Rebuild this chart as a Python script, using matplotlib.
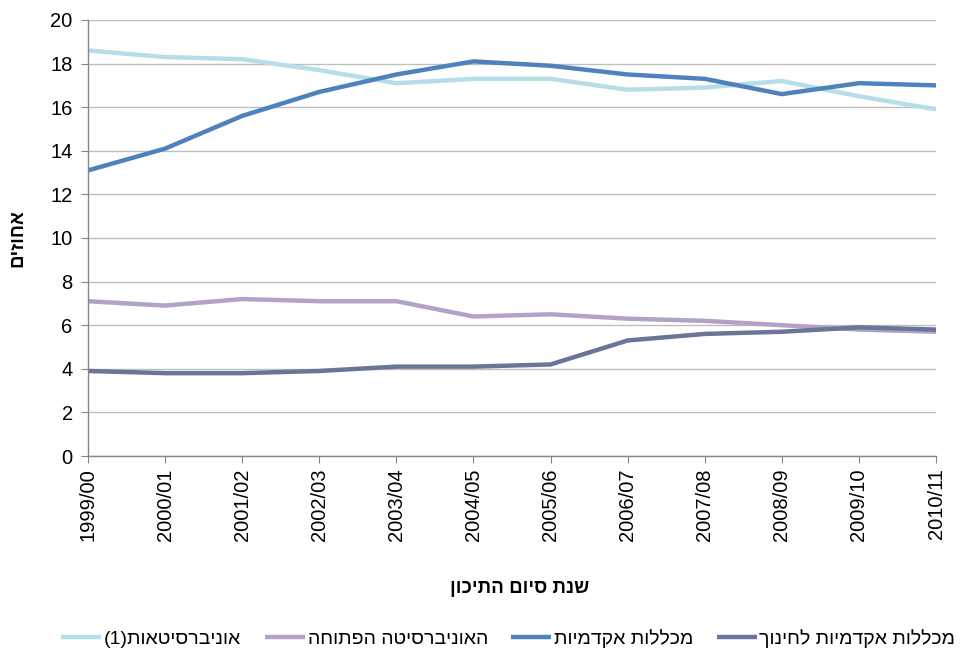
import matplotlib
matplotlib.use("Agg")
import matplotlib.pyplot as plt

plt.rcParams['font.family'] = ['Liberation Sans', 'DejaVu Sans']

years = ["1999/00", "2000/01", "2001/02", "2002/03", "2003/04", "2004/05",
         "2005/06", "2006/07", "2007/08", "2008/09", "2009/10", "2010/11"]
universities = [18.6, 18.3, 18.2, 17.7, 17.1, 17.3, 17.3, 16.8, 16.9, 17.2, 16.5, 15.9]
open_university = [7.1, 6.9, 7.2, 7.1, 7.1, 6.4, 6.5, 6.3, 6.2, 6.0, 5.8, 5.7]
academic_colleges = [13.1, 14.1, 15.6, 16.7, 17.5, 18.1, 17.9, 17.5, 17.3, 16.6, 17.1, 17.0]
education_colleges = [3.9, 3.8, 3.8, 3.9, 4.1, 4.1, 4.2, 5.3, 5.6, 5.7, 5.9, 5.8]

name_univ = "אוניברסיטאות"
name_open = "האוניברסיטה הפתוחה"
name_acad = "מכללות אקדמיות"
name_edu = "מכללות אקדמיות לחינוך"
ylabel = "אחוזים"
xlabel = "שנת סיום התיכון"

def vis(s):
    # visual order for right-to-left text
    return s[::-1]

fig = plt.figure(figsize=(9.63, 6.55), dpi=100)
ax = fig.add_axes([0.0914, 0.3038, 0.8806, 0.6657])

x = list(range(len(years)))
lw = 3.2
ax.plot(x, universities, color="#B7DEE8", lw=lw, label="(1)" + vis(name_univ), solid_capstyle='butt')
ax.plot(x, open_university, color="#B3A2C7", lw=lw, label=vis(name_open), solid_capstyle='butt')
ax.plot(x, academic_colleges, color="#4F81BD", lw=lw, label=vis(name_acad), solid_capstyle='butt')
ax.plot(x, education_colleges, color="#6B7499", lw=lw, label=vis(name_edu), solid_capstyle='butt')

ax.set_xlim(0, len(years) - 1)
ax.set_ylim(0, 20)
ax.set_yticks(range(0, 21, 2))
ax.set_xticks(x)
ax.set_xticklabels(years, rotation=90, fontsize=14.5)
ax.tick_params(axis='y', labelsize=14.5, length=5, color="#868686", pad=6)
ax.tick_params(axis='x', length=5, color="#868686", pad=4)
ax.grid(axis='y', color="#BFBFBF", lw=1)
ax.set_axisbelow(True)
for s in ['top', 'right']:
    ax.spines[s].set_visible(False)
for s in ['left', 'bottom']:
    ax.spines[s].set_color("#868686")
    ax.spines[s].set_linewidth(1)

fig.text(0.019, 0.636, vis(ylabel), rotation=90, fontsize=13.5, fontweight='bold',
         ha='center', va='center')
fig.text(0.54, 0.102, vis(xlabel), fontsize=13.5, fontweight='bold',
         ha='center', va='center')

fig.legend(loc='center', bbox_to_anchor=(0.528, 0.025), ncol=4, frameon=False,
           fontsize=14, handlelength=2.05, columnspacing=1.2, handletextpad=0.15,
           borderpad=0.1)

fig.savefig("out.png", dpi=100)
